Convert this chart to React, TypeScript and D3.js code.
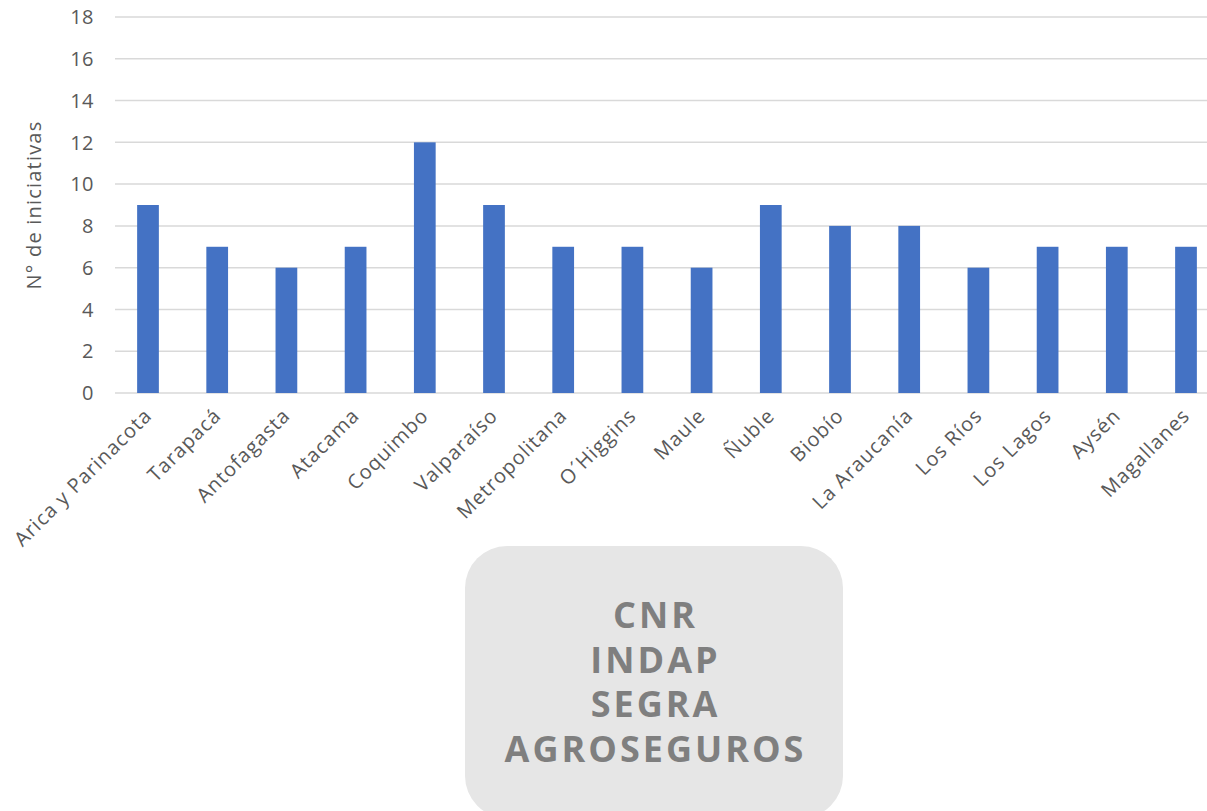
import React, { useRef, useEffect } from "react";
import * as d3 from "d3";

// Chart data
const regions: string[] = [
  "Arica y Parinacota",
  "Tarapacá",
  "Antofagasta",
  "Atacama",
  "Coquimbo",
  "Valparaíso",
  "Metropolitana",
  "O´Higgins",
  "Maule",
  "Ñuble",
  "Biobío",
  "La Araucanía",
  "Los Ríos",
  "Los Lagos",
  "Aysén",
  "Magallanes",
];
const initiatives: number[] = [9, 7, 6, 7, 12, 9, 7, 7, 6, 9, 8, 8, 6, 7, 7, 7];
const yTicks: number[] = [0, 2, 4, 6, 8, 10, 12, 14, 16, 18];
const boxLines: string[] = ["CNR", "INDAP", "SEGRA", "AGROSEGUROS"];

const W = 1207;
const H = 811;
const FONT = "'Open Sans', 'Noto Sans', sans-serif";

const App: React.FC = () => {
  const ref = useRef<SVGSVGElement | null>(null);

  useEffect(() => {
    if (!ref.current) return;
    const svg = d3.select(ref.current);
    svg.selectAll("*").remove();

    const x = d3
      .scaleBand<string>()
      .domain(regions)
      .range([113.4, 1220.6])
      .paddingInner(0.686)
      .paddingOuter(0.343);
    const y = d3.scaleLinear().domain([0, 18]).range([393, 17]);

    // Gridlines
    svg
      .append("g")
      .selectAll("line")
      .data(yTicks)
      .enter()
      .append("line")
      .attr("x1", 115)
      .attr("x2", W)
      .attr("y1", (d) => y(d))
      .attr("y2", (d) => y(d))
      .attr("stroke", "#d9d9d9")
      .attr("stroke-width", 1.5);

    // Y tick labels
    svg
      .append("g")
      .selectAll("text")
      .data(yTicks)
      .enter()
      .append("text")
      .attr("x", 94)
      .attr("y", (d) => y(d))
      .attr("dy", "0.36em")
      .attr("text-anchor", "end")
      .attr("font-family", FONT)
      .attr("font-size", 20)
      .attr("letter-spacing", 0.5)
      .attr("fill", "#595959")
      .text((d) => d);

    // Y axis title
    svg
      .append("text")
      .attr("transform", `translate(41,205) rotate(-90)`)
      .attr("text-anchor", "middle")
      .attr("font-family", FONT)
      .attr("font-size", 20)
      .attr("letter-spacing", 1.2)
      .attr("fill", "#595959")
      .text("N° de iniciativas");

    // Bars
    svg
      .append("g")
      .selectAll("rect")
      .data(initiatives)
      .enter()
      .append("rect")
      .attr("x", (_, i) => x(regions[i])!)
      .attr("y", (d) => y(d))
      .attr("width", x.bandwidth())
      .attr("height", (d) => y(0) - y(d))
      .attr("fill", "#4472c4");

    // Category labels
    svg
      .append("g")
      .selectAll("text")
      .data(regions)
      .enter()
      .append("text")
      .attr(
        "transform",
        (d) => `translate(${x(d)! + x.bandwidth() / 2 + 5},${417}) rotate(-45)`
      )
      .attr("text-anchor", "end")
      .attr("font-family", FONT)
      .attr("font-size", 20)
      .attr("letter-spacing", 1)
      .attr("fill", "#595959")
      .text((d) => d);

    // Organisations box
    const box = svg.append("g");
    box
      .append("rect")
      .attr("x", 465)
      .attr("y", 546)
      .attr("width", 378)
      .attr("height", 272)
      .attr("rx", 42)
      .attr("fill", "#e6e6e6");
    box
      .selectAll("text")
      .data(boxLines)
      .enter()
      .append("text")
      .attr("x", 655.5)
      .attr("y", (_, i) => 628 + i * 44.7)
      .attr("text-anchor", "middle")
      .attr("font-family", FONT)
      .attr("font-weight", 700)
      .attr("font-size", 36)
      .attr("letter-spacing", 3)
      .attr("fill", "#7f7f7f")
      .text((d) => d);
  }, []);

  return (
    <svg
      ref={ref}
      width={W}
      height={H}
      style={{ position: "absolute", left: 0, top: 0, background: "#fff" }}
    />
  );
};

export default App;
